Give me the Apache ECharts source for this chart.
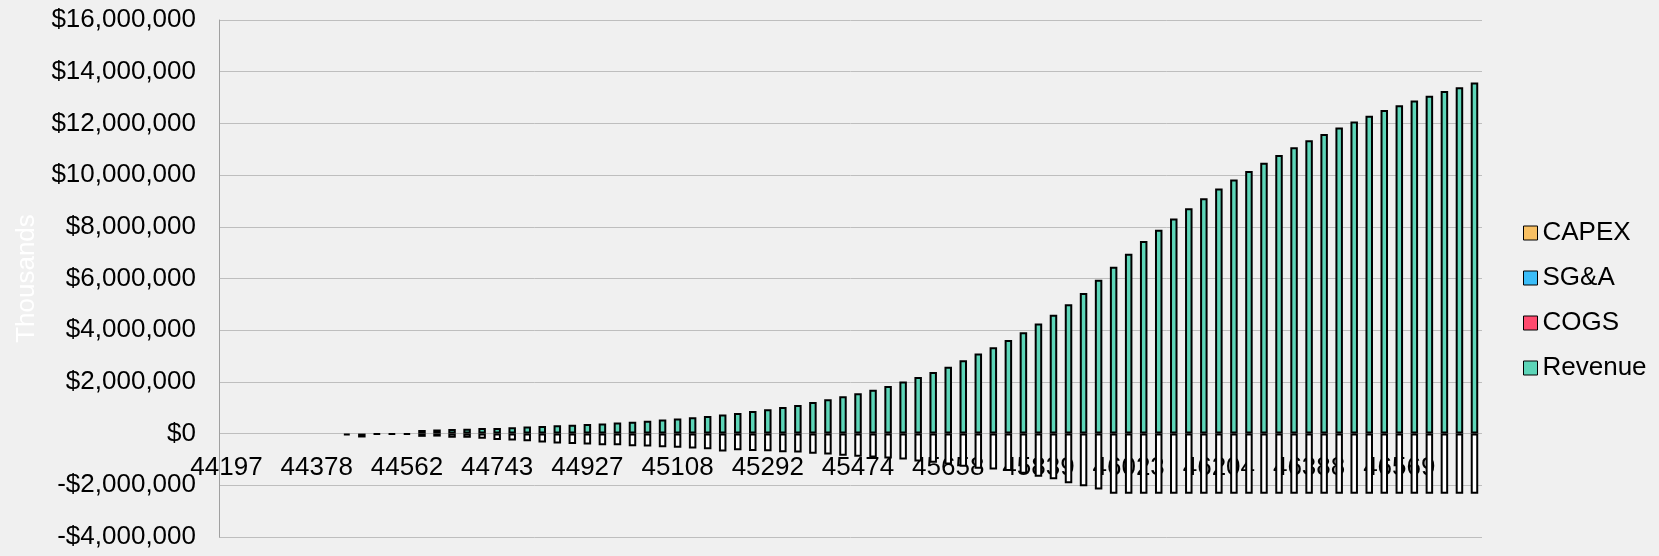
<!DOCTYPE html>
<html>
<head>
<meta charset="utf-8">
<script src="https://cdn.jsdelivr.net/npm/echarts@6/dist/echarts.min.js"></script>
<style>
html,body{margin:0;padding:0;background:#F0F0F0;}
#chart{width:1659px;height:556px;}
</style>
</head>
<body>
<div id="chart"></div>
<script>
// Month start dates as Excel serial numbers (Jan 2021 - Dec 2027)
const categories = [
 44197,44228,44256,44287,44317,44348,44378,44409,44440,44470,44501,44531,
 44562,44593,44621,44652,44682,44713,44743,44774,44805,44835,44866,44896,
 44927,44958,44986,45017,45047,45078,45108,45139,45170,45200,45231,45261,
 45292,45323,45352,45383,45413,45444,45474,45505,45536,45566,45597,45627,
 45658,45689,45717,45748,45778,45809,45839,45870,45901,45931,45962,45992,
 46023,46054,46082,46113,46143,46174,46204,46235,46266,46296,46327,46357,
 46388,46419,46447,46478,46508,46539,46569,46600,46631,46661,46692,46722
];

const revenue = [
 null,null,null,null,null,null,null,null,null,null,null,null,
 null,140000,155000,180000,185000,215000,220000,245000,270000,295000,320000,345000,
 370000,395000,425000,460000,500000,550000,580000,630000,680000,740000,800000,875000,
 940000,1030000,1110000,1225000,1330000,1445000,1560000,1700000,1845000,2020000,2190000,2385000,
 2590000,2835000,3095000,3340000,3620000,3920000,4255000,4600000,5000000,5440000,5950000,6450000,
 6960000,7450000,7885000,8320000,8720000,9105000,9480000,9825000,10160000,10480000,10780000,11075000,
 11345000,11590000,11845000,12075000,12295000,12515000,12705000,12885000,13070000,13250000,13400000,13580000
];

const cogs = [];

const sga = [
 null,null,null,null,null,null,null,null,-60000,-150000,-30000,-30000,
 -40000,-125000,-115000,-165000,-165000,-195000,-245000,-270000,-295000,-345000,-385000,-400000,
 -425000,-450000,-450000,-490000,-500000,-530000,-545000,-575000,-610000,-690000,-645000,-670000,
 -685000,-720000,-735000,-775000,-805000,-860000,-895000,-925000,-965000,-1005000,-1080000,-1130000,
 -1200000,-1280000,-1355000,-1390000,-1450000,-1550000,-1665000,-1770000,-1925000,-2040000,-2160000,-2330000,
 -2330000,-2330000,-2330000,-2330000,-2330000,-2330000,-2330000,-2330000,-2330000,-2330000,-2330000,-2330000,
 -2330000,-2330000,-2330000,-2330000,-2330000,-2330000,-2330000,-2330000,-2330000,-2330000,-2330000,-2330000
];

const capex = [];

const legendOrder = ['CAPEX','SG&A','COGS','Revenue'];

const colors = {Revenue:'#5DD5B8', COGS:'#FF4A6E', 'SG&A':'#3BBDF8', CAPEX:'#F8C063'};

function toData(arr){
  return arr.map(v => (v === null ? null : (v < 0 ? {value:v, itemStyle:{color:'#FFFFFF'}} : v)));
}

function fmt(v){
  const s = Math.abs(v).toString().replace(/\B(?=(\d{3})+(?!\d))/g, ',');
  return (v < 0 ? '-$' : '$') + s;
}

const FONT = '"Liberation Sans", Arial, sans-serif';
const FS = 26;

function barSeries(name, arr){
  return {
    name: name, type: 'bar', stack: 'total',
    barWidth: 7.5,
    itemStyle: {color: colors[name], borderColor: '#000', borderWidth: 2},
    emphasis: {disabled: true},
    data: toData(arr)
  };
}

const chart = echarts.init(document.getElementById('chart'));
chart.setOption({
  backgroundColor: '#F0F0F0',
  animation: false,
  textStyle: {fontFamily: FONT},
  grid: {left: 219, right: 177, top: 20, bottom: 19, containLabel: false, outerBoundsMode: 'none'},
  legend: {
    orient: 'vertical', left: 1518, top: 215,
    data: legendOrder,
    icon: 'rect', itemWidth: 14, itemHeight: 14, itemGap: 19,
    textStyle: {fontSize: FS, color: '#000', fontFamily: FONT},
    itemStyle: {borderColor: '#000', borderWidth: 1}
  },
  xAxis: {
    type: 'category', data: categories, position: 'bottom',
    axisLine: {show: false, onZero: false},
    axisTick: {show: false},
    axisLabel: {interval: 5, fontSize: FS, color: '#000', margin: -82, fontFamily: FONT, hideOverlap: false},
    splitLine: {show: false}
  },
  yAxis: {
    type: 'value', min: -4000000, max: 16000000, interval: 2000000,
    name: 'Thousands', nameLocation: 'middle', nameGap: 179, nameRotate: 90,
    nameTextStyle: {color: '#FFFFFF', fontSize: FS, fontFamily: FONT},
    axisLine: {show: true, lineStyle: {color: '#A0A0A0'}},
    axisTick: {show: false},
    axisLabel: {fontSize: FS, color: '#000', margin: 23, fontFamily: FONT, formatter: v => fmt(v)},
    splitLine: {show: true, lineStyle: {color: '#BEBEBE', width: 1}}
  },
  series: [
    barSeries('Revenue', revenue),
    barSeries('COGS', cogs),
    barSeries('SG&A', sga),
    barSeries('CAPEX', capex)
  ]
});
</script>
</body>
</html>
